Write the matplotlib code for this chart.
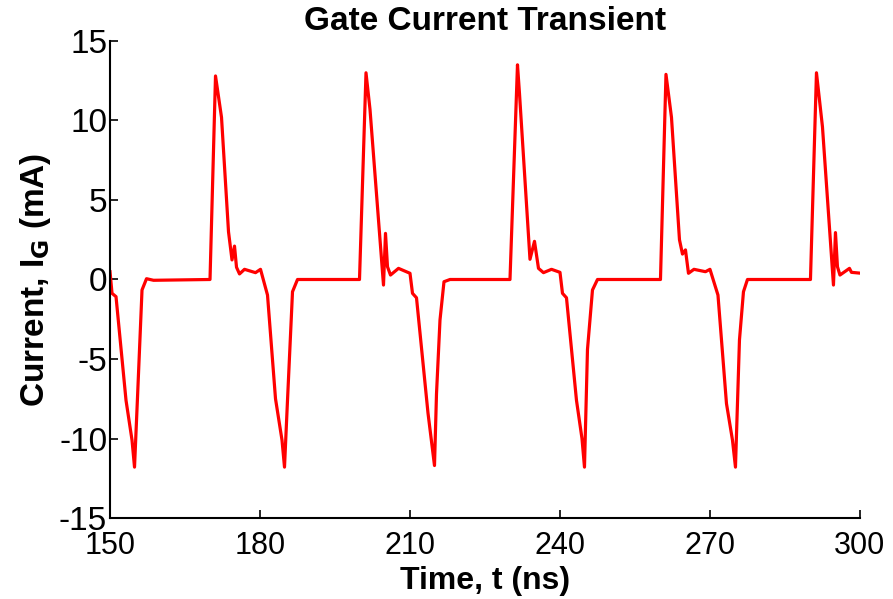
import matplotlib
matplotlib.use("Agg")
import matplotlib.pyplot as plt

time_ns = [150, 150.4, 151.2, 153.2, 154.4, 154.9, 155.5, 156.4, 157.3, 158.7,
           170, 171.1, 172.3, 173.7, 174.4, 174.9, 175.3, 175.9, 176.9, 179.1, 180.1,
           181.5, 183.1, 184.4, 184.9, 185.5, 186.5, 187.5,
           199.9, 201.2, 202.0, 204.7, 205.1, 205.5, 206.1, 207.7, 210.0,
           210.5, 211.3, 213.6, 214.9, 215.3, 216.0, 216.8, 218.0,
           230.0, 231.5, 231.9, 234.0, 234.9, 235.7, 236.7, 238.3, 240.0,
           240.5, 241.3, 243.3, 244.4, 244.9, 245.5, 246.5, 247.5,
           260.1, 261.2, 262.3, 263.9, 264.5, 265.1, 265.7, 266.8, 269.1, 270.0,
           271.6, 273.3, 274.5, 275.1, 275.9, 276.7, 277.5,
           290.1, 291.3, 292.5, 294.7, 295.1, 295.5, 296.0, 297.9, 298.3, 300.0]
current_mA = [0.49, -0.87, -1.08, -7.6, -10.1, -11.8, -7.4, -0.66, 0.05, -0.05,
              0.0, 12.8, 10.2, 3.0, 1.23, 2.1, 0.77, 0.35, 0.64, 0.43, 0.64,
              -0.98, -7.5, -10.1, -11.8, -7.6, -0.77, 0.0,
              0.0, 13.0, 10.7, -0.35, 2.9, 0.8, 0.28, 0.7, 0.39,
              -0.87, -1.15, -8.4, -11.7, -7.2, -2.55, -0.14, 0.0,
              0.0, 13.5, 11.7, 1.27, 2.4, 0.7, 0.43, 0.64, 0.45,
              -0.87, -1.15, -7.6, -10.0, -11.8, -4.4, -0.66, 0.0,
              0.0, 12.9, 10.2, 2.5, 1.6, 1.86, 0.39, 0.64, 0.49, 0.64,
              -0.98, -7.8, -10.1, -11.8, -3.8, -0.77, 0.0,
              0.0, 13.0, 9.6, -0.35, 2.95, 0.8, 0.28, 0.7, 0.45, 0.4]

xticks = [150, 180, 210, 240, 270, 300]
yticks = [-15, -10, -5, 0, 5, 10, 15]

fam = "Liberation Sans"
fig = plt.figure(figsize=(8.93, 5.99), dpi=100)
ax = fig.add_axes([0.1232, 0.1352, 0.8398, 0.7964])
ax.plot(time_ns, current_mA, color="#ff0000", lw=2.3)
ax.set_xlim(150, 300)
ax.set_ylim(-15, 15)
ax.set_xticks(xticks)
ax.set_yticks(yticks)
ax.set_xticklabels([str(v) for v in xticks], family=fam, fontsize=22)
ax.set_yticklabels([str(v) for v in yticks], family=fam, fontsize=24)
ax.tick_params(axis="x", direction="in", length=6, width=1.2, pad=9)
ax.tick_params(axis="y", direction="in", length=6, width=1.2, pad=2)
ax.spines["top"].set_visible(False)
ax.spines["right"].set_visible(False)
ax.spines["left"].set_linewidth(1.5)
ax.spines["bottom"].set_linewidth(1.5)
ax.set_title("Gate Current Transient", family=fam, fontweight="bold", fontsize=24, pad=8)
ax.set_xlabel("Time, t (ns)", family=fam, fontweight="bold", fontsize=23, labelpad=4)
ax.set_ylabel(r"Current, I$_\mathbf{G}$ (mA)", family=fam, fontweight="bold", fontsize=24, labelpad=4)
fig.savefig("out.png", dpi=100)
